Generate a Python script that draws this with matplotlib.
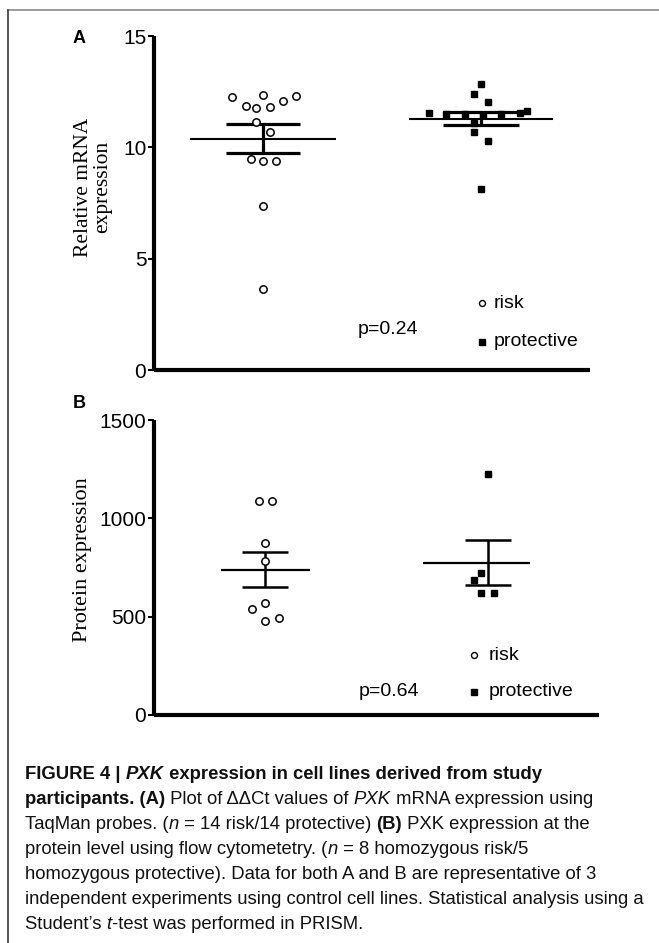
import numpy as np
import matplotlib
matplotlib.use("Agg")
import matplotlib.pyplot as plt
from matplotlib.lines import Line2D

W, H = 659, 943

# panel A: relative mRNA expression
mrna_risk = [12.25, 12.35, 12.32, 11.87, 11.75, 11.80, 12.08, 11.15, 10.68,
             9.48, 9.39, 9.40, 7.38, 3.63]
mrna_protective = [12.84, 12.38, 12.05, 11.63, 11.11, 10.70, 10.28, 8.13,
                   11.52, 11.48, 11.50, 11.45, 11.50, 11.52]
# horizontal scatter of points within each column (data units)
mrna_risk_dx = [-0.14, 0, 0.15, -0.08, -0.03, 0.03, 0.09, -0.03, 0.03,
                -0.055, 0, 0.06, 0, 0]
mrna_protective_dx = [0, -0.03, 0.03, 0.21, -0.03, -0.03, 0.03, 0,
                      -0.24, -0.16, -0.075, 0.01, 0.09, 0.18]

# panel B: protein expression
protein_risk = [1090, 1090, 876, 783, 571, 537, 478, 492]
protein_protective = [1225, 720, 686, 619, 622]
protein_risk_dx = [-0.03, 0.03, 0, 0, 0, -0.06, 0, 0.06]
protein_protective_dx = [0, -0.03, -0.06, -0.03, 0.03]

p_values = ["p=0.24", "p=0.64"]
labels = ["risk", "protective"]

plt.rcParams['font.family'] = ['Liberation Sans', 'DejaVu Sans']

fig = plt.figure(figsize=(W / 100, H / 100), dpi=100)


def sem(v):
    v = np.asarray(v, dtype=float)
    return v.std(ddof=1) / np.sqrt(len(v))


def fig_rect(left, top, right, bottom):
    return [left / W, 1 - bottom / H, (right - left) / W, (bottom - top) / H]


def panel(ax, risk, prot, risk_dx, prot_dx, mean_ext, cap_ext, lw_mean, lw_cap):
    for i, (vals, dx) in enumerate([(risk, risk_dx), (prot, prot_dx)]):
        xc = i + 1
        m = np.mean(vals)
        s = sem(vals)
        lo, hi = mean_ext[i]
        ax.hlines(m, xc - lo, xc + hi, color="black", lw=lw_mean, zorder=2)
        ax.hlines([m - s, m + s], xc - cap_ext[i], xc + cap_ext[i], color="black",
                  lw=lw_cap, zorder=2)
        ax.vlines(xc, m - s, m + s, color="black", lw=lw_cap, zorder=2)
        xs = xc + np.asarray(dx)
        if i == 0:
            ax.plot(xs, vals, "o", ms=5.3, mfc="white", mec="black", mew=1.1,
                    ls="none", zorder=3)
        else:
            ax.plot(xs, vals, "s", ms=5.0, mfc="black", mec="black",
                    ls="none", zorder=3)
    ax.set_xlim(0.5, 2.5)
    ax.set_xticks([])
    for side in ["top", "right"]:
        ax.spines[side].set_visible(False)
    for side in ["left", "bottom"]:
        ax.spines[side].set_linewidth(3.0)
        ax.spines[side].set_capstyle("butt")
    ax.tick_params(axis="y", direction="out", length=4, width=1.5, pad=1.5,
                   labelsize=15)


def legend_block(ax, mx, tx, y_risk, y_prot, px, py, ptext):
    ax.plot([mx], [y_risk], "o", ms=4.3, mfc="white", mec="black", mew=1.0,
            transform=ax.transAxes, clip_on=False)
    ax.plot([mx], [y_prot], "s", ms=4.3, color="black",
            transform=ax.transAxes, clip_on=False)
    ax.text(tx, y_risk, labels[0], transform=ax.transAxes, fontsize=14,
            va="center", ha="left")
    ax.text(tx, y_prot, labels[1], transform=ax.transAxes, fontsize=14,
            va="center", ha="left")
    ax.text(px, py, ptext, transform=ax.transAxes, fontsize=14,
            va="center", ha="left")


# panel A
axA = fig.add_axes(fig_rect(154, 36, 590, 370))
panel(axA, mrna_risk, mrna_protective, mrna_risk_dx, mrna_protective_dx,
      mean_ext=[(0.333, 0.333), (0.33, 0.33)], cap_ext=[0.17, 0.175],
      lw_mean=1.5, lw_cap=2.3)
axA.set_ylim(0, 15)
axA.set_yticks([0, 5, 10, 15])
legend_block(axA, 0.752, 0.778, 0.20, 0.085, 0.468, 0.12, p_values[0])
fig.text(93 / W, 1 - 187 / H, "Relative mRNA\nexpression", rotation=90,
         ha="center", va="center", multialignment="center", fontsize=15.5,
         family="Liberation Serif", linespacing=0.95)
fig.text(73 / W, 1 - 43 / H, "A", fontsize=13, weight="bold", ha="left",
         va="baseline")

# panel B
axB = fig.add_axes(fig_rect(154, 420, 599, 715))
panel(axB, protein_risk, protein_protective, protein_risk_dx, protein_protective_dx,
      mean_ext=[(0.2, 0.2), (0.29, 0.19)], cap_ext=[0.104, 0.104],
      lw_mean=1.6, lw_cap=1.8)
axB.set_ylim(0, 1500)
axB.set_yticks([0, 500, 1000, 1500])
legend_block(axB, 0.719, 0.753, 0.203, 0.078, 0.461, 0.078, p_values[1])
fig.text(83 / W, 1 - 560 / H, "Protein expression", rotation=90,
         ha="center", va="center", fontsize=16, family="Liberation Serif")
fig.text(73 / W, 1 - 408 / H, "B", fontsize=13, weight="bold", ha="left",
         va="baseline")

# frame (only top and left edges are inside the crop)
fig.add_artist(Line2D([8 / W, 1], [1 - 10 / H, 1 - 10 / H], color="#8a8a8a", lw=1.2))
fig.add_artist(Line2D([8 / W, 8 / W], [0, 1 - 10 / H], color="#3a3a3a", lw=1.2))

# caption, drawn run by run so styles can change inside a line
R, B, I, BI = ("normal", "normal"), ("bold", "normal"), ("normal", "italic"), ("bold", "italic")
caption = [
    [("FIGURE 4 | ", B), ("PXK", BI), (" expression in cell lines derived from study", B)],
    [("participants. (A)", B), (" Plot of \u0394\u0394Ct values of ", R), ("PXK", I),
     (" mRNA expression using", R)],
    [("TaqMan probes. (", R), ("n", I), (" = 14 risk/14 protective) ", R), ("(B)", B),
     (" PXK expression at the", R)],
    [("protein level using flow cytometetry. (", R), ("n", I), (" = 8 homozygous risk/5", R)],
    [("homozygous protective). Data for both A and B are representative of 3", R)],
    [("independent experiments using control cell lines. Statistical analysis using a", R)],
    [("Student\u2019s ", R), ("t", I), ("-test was performed in PRISM.", R)],
]
cap_size = 13.3
renderer = fig.canvas.get_renderer()


def run_width(s, weight, style):
    t = fig.text(0, 0, s + "|", fontsize=cap_size, weight=weight, style=style)
    w = t.get_window_extent(renderer=renderer).width
    t.remove()
    t = fig.text(0, 0, "|", fontsize=cap_size, weight=weight, style=style)
    w -= t.get_window_extent(renderer=renderer).width
    t.remove()
    return w


for k, line in enumerate(caption):
    x = 25.0
    y = 779 + 25 * k
    for s, (weight, style) in line:
        fig.text(x / W, 1 - y / H, s, fontsize=cap_size, weight=weight, style=style,
                 ha="left", va="baseline", color="#111111")
        x += run_width(s, weight, style)

fig.savefig("out.png", dpi=100)
